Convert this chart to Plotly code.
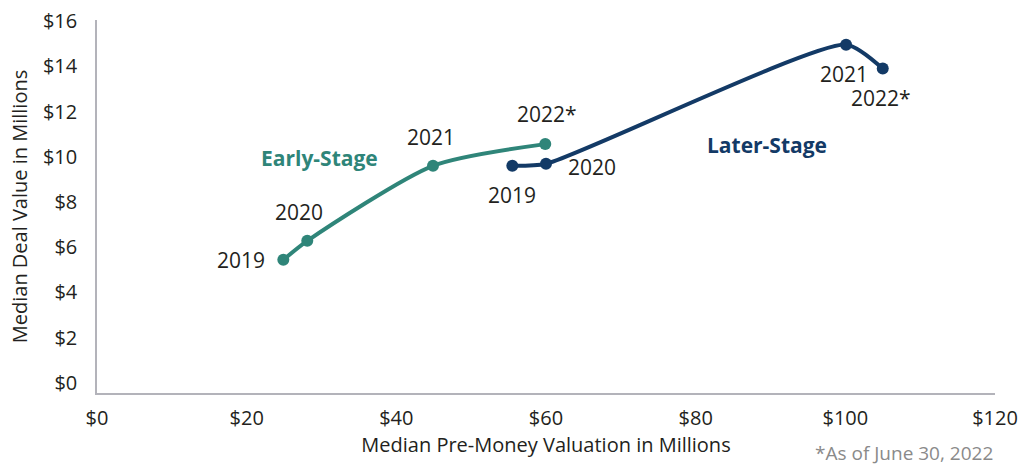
import plotly.graph_objects as go

# Median pre-money valuation ($M) and median deal value ($M) by year
years = ["2019", "2020", "2021", "2022*"]
early_valuation = [24.9, 28.1, 44.9, 59.9]
early_deal = [5.44, 6.28, 9.6, 10.56]
later_valuation = [55.5, 60.0, 100.1, 105.0]
later_deal = [9.6, 9.69, 14.96, 13.9]

x_ticks = [0, 20, 40, 60, 80, 100, 120]
y_ticks = [0, 2, 4, 6, 8, 10, 12, 14, 16]

TEAL = "#2F8579"
NAVY = "#133A66"
TEXT = "#231F20"
FONT = "Open Sans"

fig = go.Figure()
for xs, ys, col, sm in [(early_valuation, early_deal, TEAL, 0.7), (later_valuation, later_deal, NAVY, 0.6)]:
    fig.add_trace(go.Scatter(
        x=xs, y=ys, mode="lines+markers",
        line=dict(color=col, width=4, shape="spline", smoothing=sm),
        marker=dict(color=col, size=12),
        hoverinfo="skip", showlegend=False,
    ))

# year labels: (x shift, y shift, anchor) for each point
early_offsets = [(-16, 0, "right"), (-8, 29, "center"), (-2, 29, "center"), (2, 30, "center")]
later_offsets = [(0, -29, "center"), (20, -3, "left"), (-2, -29, "center"), (-2, -29, "center")]

for xs, ys, offs in [(early_valuation, early_deal, early_offsets), (later_valuation, later_deal, later_offsets)]:
    for yr, xv, yv, (dx, dy, anc) in zip(years, xs, ys, offs):
        fig.add_annotation(
            x=xv, y=yv, text=yr, showarrow=False,
            xshift=dx, yshift=dy, xanchor=anc, yanchor="middle",
            font=dict(family=FONT, size=21, color=TEXT),
        )

fig.add_annotation(x=29.7, y=9.96, text="<b>Early-Stage</b>",
                   showarrow=False, font=dict(family=FONT, size=21, color=TEAL))
fig.add_annotation(x=89.5, y=10.53, text="<b>Later-Stage</b>",
                   showarrow=False, font=dict(family=FONT, size=21, color=NAVY))

fig.add_annotation(xref="paper", yref="paper", x=1.0, y=-0.162, xanchor="right", yanchor="middle",
                   text="*As of June 30, 2022", showarrow=False,
                   font=dict(family=FONT, size=19, color="#8A8A8A"))

fig.update_layout(
    width=1019, height=468,
    margin=dict(l=97, r=24, t=20, b=75),
    plot_bgcolor="white", paper_bgcolor="white",
    font=dict(family=FONT, color=TEXT),
    xaxis=dict(
        range=[0, 120], tickvals=x_ticks, ticktext=[f"${v}" for v in x_ticks],
        automargin=False, ticklabeloverflow="allow",
        showgrid=False, zeroline=False, showline=True, linecolor="#B3B3BA", linewidth=1.5,
        ticks="", tickfont=dict(size=20, color=TEXT), ticklabelstandoff=6,
        title=dict(text="Median Pre-Money Valuation in Millions", font=dict(size=20, color=TEXT), standoff=2),
    ),
    yaxis=dict(
        range=[-0.45, 16.05], tickvals=y_ticks, ticktext=[f"${v}" for v in y_ticks],
        automargin=False, ticklabeloverflow="allow",
        showgrid=False, zeroline=False, showline=True, linecolor="#B3B3BA", linewidth=1.5,
        ticks="", tickfont=dict(size=20, color=TEXT), ticklabelstandoff=14,
        title=dict(text="Median Deal Value in Millions", font=dict(size=20, color=TEXT), standoff=10),
    ),
)

fig.write_html("out.html")
